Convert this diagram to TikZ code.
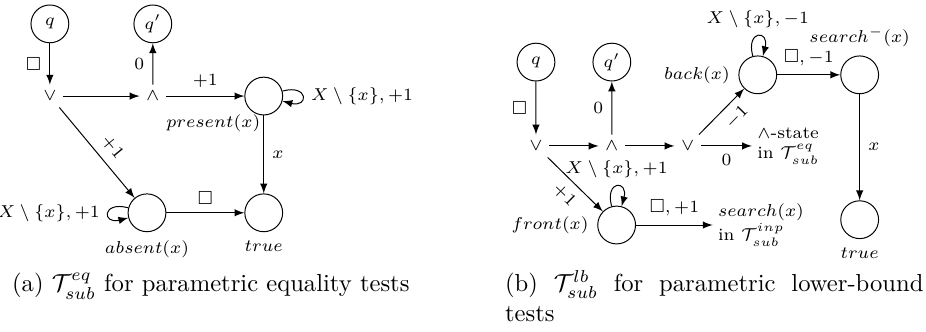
\documentclass[tikz,border=0pt]{standalone}
\usepackage{amssymb}
\begin{document}
\begin{tikzpicture}[scale=0.758, >=latex, font=\scriptsize,
    state/.style={draw, circle, minimum size=0.54cm, inner sep=0pt},
    gate/.style={inner sep=2.5pt},
    exit/.style={align=left, inner sep=2pt},
    every loop/.style={min distance=3mm, looseness=7}]
    \useasboundingbox (0,0) rectangle (17.45,-6.24);
    % (a) equality tests
    \node[state] (qa) at (0.94,-0.45) {$q$};
    \node[state] (qpa) at (2.88,-0.45) {$q'$};
    \node[gate] (ora) at (0.94,-1.81) {$\vee$};
    \node[gate] (anda) at (2.88,-1.81) {$\wedge$};
    \node[state, label={[xshift=0.27cm, yshift=0.05cm]below left:$present(x)$}] (present) at (4.97,-1.81) {};
    \node[state, label=below:$absent(x)$] (absent) at (2.77,-4.01) {};
    \node[state, label=below:$true$] (truea) at (4.97,-4.01) {};
    \draw[->] (qa) -- node[left]{$\Box$} (ora);
    \draw[->] (ora) -- (anda);
    \draw[->] (anda) -- node[left]{$0$} (qpa);
    \draw[->] (anda) -- node[above]{$+1$} (present);
    \draw[->] (ora) -- node[above, sloped, pos=0.55]{$+1$} (absent);
    \draw[->] (present) -- node[right]{$x$} (truea);
    \draw[->] (absent) -- node[above]{$\Box$} (truea);
    \draw[->] (present) to[loop right] node[right]{$X\setminus\{x\},+1$} (present);
    \draw[<-] (absent) to[loop left] node[left]{$X\setminus\{x\},+1$} (absent);
    \node[anchor=base west, inner sep=0pt, font=\normalsize] (capa) at (0.22,-5.50)
        {(a) $\mathcal{T}^{eq}_{sub}$ for parametric equality tests};
    % (b) lower-bound tests
    \node[state] (qb) at (10.10,-1.17) {$q$};
    \node[state] (qpb) at (11.53,-1.17) {$q'$};
    \node[gate] (orb) at (10.10,-2.75) {$\vee$};
    \node[gate] (andb) at (11.53,-2.75) {$\wedge$};
    \node[gate] (orc) at (12.96,-2.75) {$\vee$};
    \node[state, label=left:$back(x)$] (back) at (14.28,-1.41) {};
    \node[state, label=above:$search^{-}(x)$] (searchm) at (16.20,-1.41) {};
    \node[state, label=below:$true$] (trueb) at (16.20,-4.14) {};
    \node[state, label=left:$front(x)$] (front) at (11.62,-4.24) {};
    \node[exit, anchor=west] (andst) at (14.17,-2.75) {$\wedge$-state\\in $\mathcal{T}^{eq}_{sub}$};
    \node[exit, anchor=west] (searchinp) at (13.43,-4.24) {$search(x)$\\in $\mathcal{T}^{inp}_{sub}$};
    \draw[->] (qb) -- node[left]{$\Box$} (orb);
    \draw[->] (orb) -- (andb);
    \draw[->] (andb) -- node[left]{$0$} (qpb);
    \draw[->] (andb) -- (orc);
    \draw[->] (orc) -- node[below, sloped, pos=0.6]{$-1$} (back);
    \draw[->] (orc) -- node[below]{$0$} (andst);
    \draw[->] (back) -- node[above]{$\Box,-1$} (searchm);
    \draw[->] (searchm) -- node[right]{$x$} (trueb);
    \draw[->] (orb) -- node[below, sloped]{$+1$} (front);
    \draw[->] (front) -- node[above]{$\Box,+1$} (searchinp);
    \draw[->] (back) to[loop above] node[above]{$X\setminus\{x\},-1$} (back);
    \draw[->] (front) to[loop above] node[above]{$X\setminus\{x\},+1$} (front);
    \node[text width=170pt, align=justify, inner sep=0pt, anchor=base west, font=\normalsize] (capb) at (9.51,-5.50)
        {(b) $\mathcal{T}^{lb}_{sub}$ for parametric lower-bound\linebreak tests};
\end{tikzpicture}
\end{document}
